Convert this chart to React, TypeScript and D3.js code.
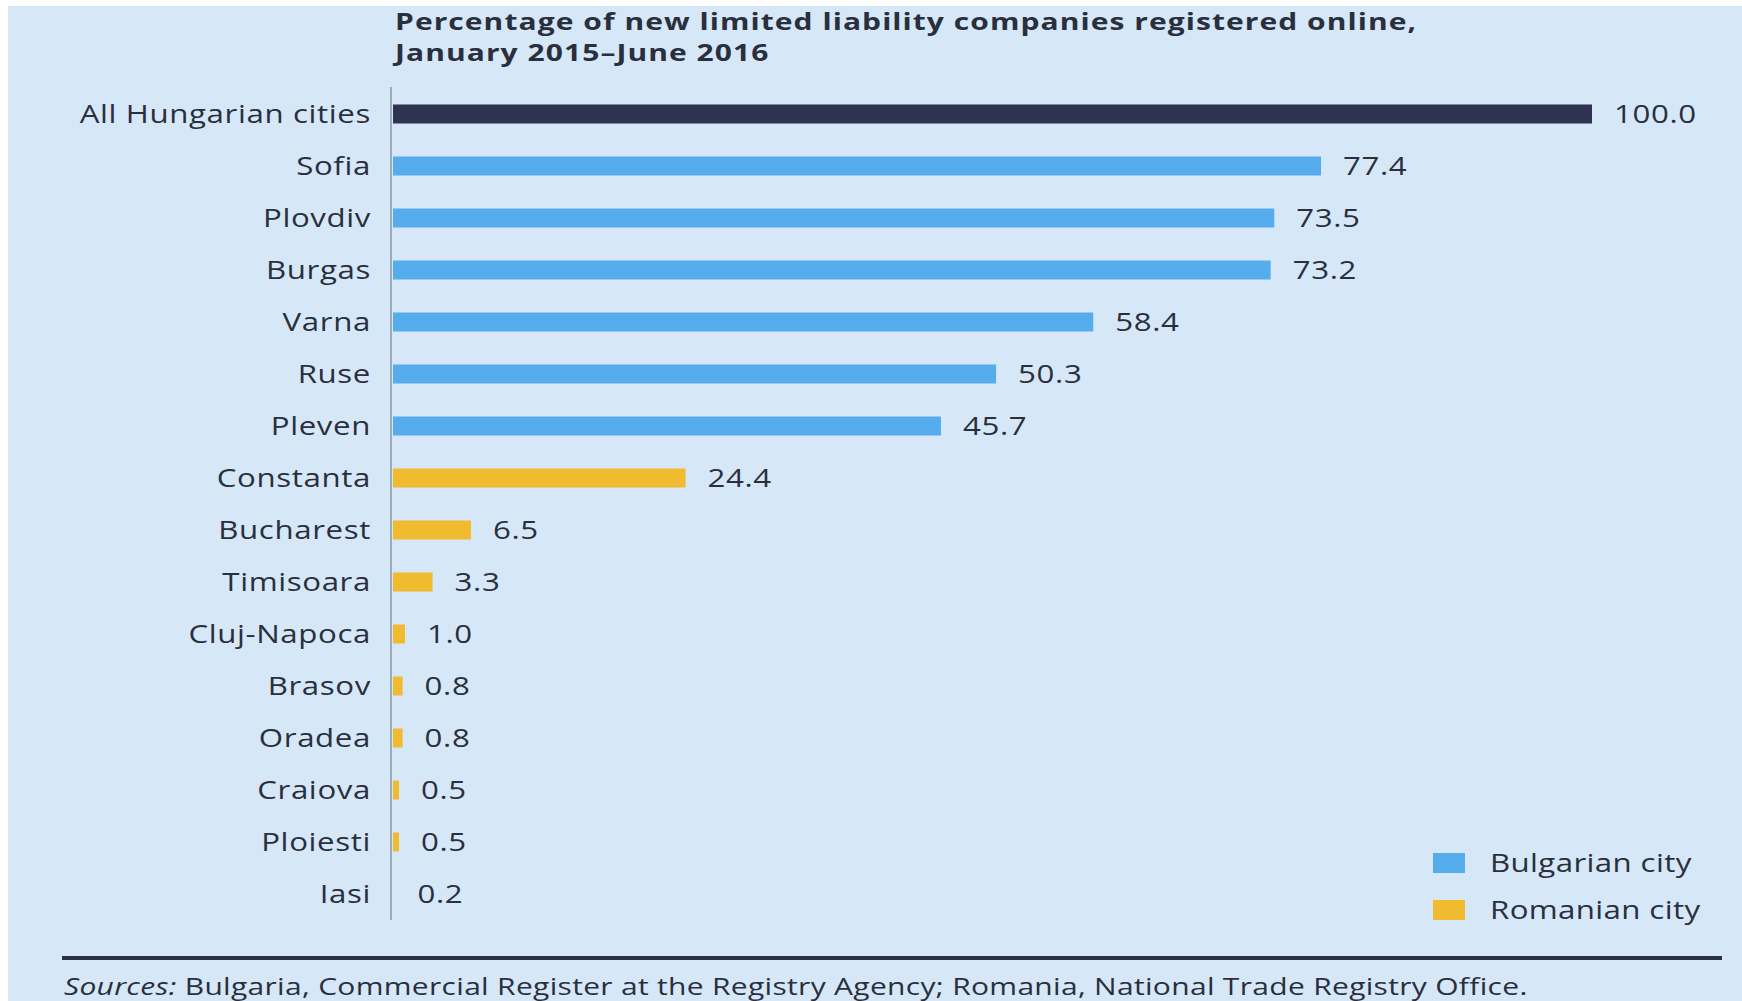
import React from "react";
import * as d3 from "d3";

const categories = [
  "All Hungarian cities",
  "Sofia",
  "Plovdiv",
  "Burgas",
  "Varna",
  "Ruse",
  "Pleven",
  "Constanta",
  "Bucharest",
  "Timisoara",
  "Cluj-Napoca",
  "Brasov",
  "Oradea",
  "Craiova",
  "Ploiesti",
  "Iasi",
];
const values = [100.0, 77.4, 73.5, 73.2, 58.4, 50.3, 45.7, 24.4, 6.5, 3.3, 1.0, 0.8, 0.8, 0.5, 0.5, 0.2];
const groups = [
  "Hungary",
  "Bulgaria", "Bulgaria", "Bulgaria", "Bulgaria", "Bulgaria", "Bulgaria",
  "Romania", "Romania", "Romania", "Romania", "Romania", "Romania", "Romania", "Romania", "Romania",
];
const legendLabels = ["Bulgarian city", "Romanian city"];
const legendGroups = ["Bulgaria", "Romania"];
const titleLines = [
  "Percentage of new limited liability companies registered online,",
  "January 2015\u2013June 2016",
];
const sourceLead = "Sources:";
const sourceText = " Bulgaria, Commercial Register at the Registry Agency; Romania, National Trade Registry Office.";

const W = 1742;
const H = 1001;
const BG = "#d6e8f7";
const TEXT = "#2a2f3e";
const colors: Record<string, string> = {
  Hungary: "#2d3350",
  Bulgaria: "#55adee",
  Romania: "#f0bb2f",
};
const FONT = "'Open Sans', 'Noto Sans', sans-serif";
const SX = 1.25;

function WideText(props: {
  x: number;
  y: number;
  anchor?: string;
  size: number;
  weight?: number;
  ls?: number;
  children: React.ReactNode;
}) {
  const { x, y, anchor = "start", size, weight = 400, ls = 0.4, children } = props;
  return (
    <text
      transform={`translate(${x},${y}) scale(${SX},1)`}
      textAnchor={anchor}
      dy="0.35em"
      fontSize={size}
      fontWeight={weight}
      fill={TEXT}
      letterSpacing={ls}
    >
      {children}
    </text>
  );
}

export default function App() {
  const x = d3.scaleLinear().domain([0, 100]).range([393, 1592]);
  const y = d3.scalePoint<string>().domain(categories).range([88, 920]).padding(0.5);
  const barH = 19;
  const fs = 25;

  return (
    <svg
      width={W}
      height={H}
      style={{ position: "absolute", left: 0, top: 0, display: "block" }}
      fontFamily={FONT}
    >
      <rect x={0} y={0} width={W} height={H} fill="#ffffff" />
      <rect x={8} y={6} width={W - 8} height={H - 6} fill={BG} />

      {titleLines.map((t, i) => (
        <WideText key={i} x={395} y={22 + i * 31} size={24} weight={700} ls={0.85}>
          {t}
        </WideText>
      ))}

      {categories.map((c, i) => {
        const cy = y(c)!;
        const w = Math.max(x(values[i]) - x(0), 0);
        return (
          <g key={c}>
            <WideText x={371} y={cy} anchor="end" size={fs} ls={0.5}>
              {c}
            </WideText>
            {values[i] >= 0.5 && (
              <rect
                x={x(0)}
                y={cy - barH / 2}
                width={Math.max(w, 4)}
                height={barH}
                fill={colors[groups[i]]}
              />
            )}
            <WideText x={x(values[i]) + 22} y={cy} size={fs} ls={0.5}>
              {values[i].toFixed(1)}
            </WideText>
          </g>
        );
      })}

      <line x1={391} x2={391} y1={87} y2={920} stroke="#9eabb8" strokeWidth={2} />

      {legendLabels.map((l, i) => (
        <g key={l}>
          <rect x={1433} y={853 + i * 47} width={32} height={20} fill={colors[legendGroups[i]]} />
          <WideText x={1490} y={863 + i * 47} size={fs} ls={0.3}>
            {l}
          </WideText>
        </g>
      ))}

      <line x1={62} x2={1722} y1={958} y2={958} stroke="#2a3149" strokeWidth={4} />
      <WideText x={64} y={987} size={24} ls={0.25}>
        <tspan fontStyle="italic">{sourceLead}</tspan>
        <tspan>{sourceText}</tspan>
      </WideText>
    </svg>
  );
}
